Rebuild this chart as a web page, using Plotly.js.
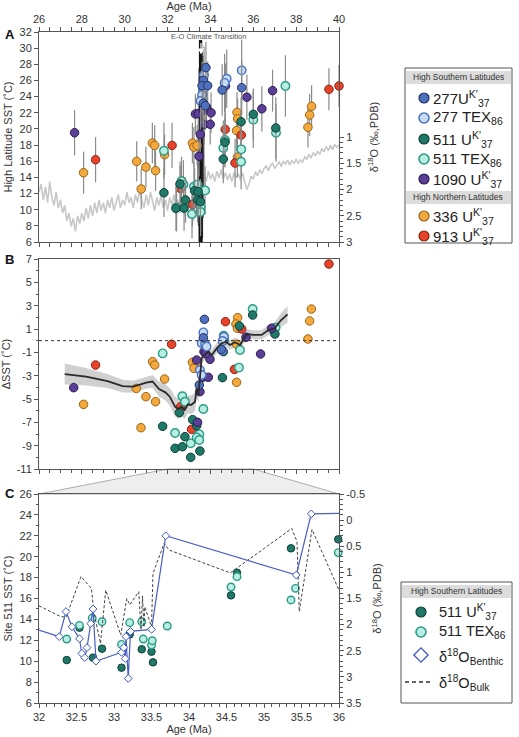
<!DOCTYPE html>
<html>
<head>
<meta charset="utf-8">
<script src="https://cdn.plot.ly/plotly-3.0.1.min.js"></script>
<style>
  html, body { margin: 0; padding: 0; background: #fff; }
  #chart { width: 519px; height: 737px; }
</style>
</head>
<body>
<div id="chart"></div>
<script>
// ---------------- Panel A: deep-sea benthic δ18O stack (0.1 Myr steps) ----------------
const d18oStartAge = 26.0;
const d18oStep = 0.1;
const d18oValues = [
  2.05,1.90,2.20,1.95,2.25,1.85,2.15,2.30,2.05,2.35,
  2.20,2.45,2.30,2.60,2.45,2.70,2.55,2.80,2.50,2.65,
  2.45,2.60,2.35,2.55,2.30,2.50,2.25,2.45,2.20,2.40,
  2.25,2.45,2.20,2.35,2.15,2.40,2.25,2.10,2.35,2.20,
  2.30,2.05,2.25,2.15,2.35,2.10,2.25,2.00,2.20,2.35,
  2.10,2.30,2.05,2.25,2.40,2.15,2.30,2.10,2.35,2.20,
  2.40,2.15,2.30,2.10,2.35,2.20,2.45,2.25,2.50,2.30,
  2.55,2.35,2.60,2.40,2.55,2.30,1.95,1.70,1.85,1.65,
  1.80,1.70,1.85,1.65,1.78,1.62,1.80,1.68,1.82,1.70,
  1.85,1.68,1.78,1.70,1.82,1.68,1.85,2.00,1.90,1.75,
  1.80,1.66,1.74,1.62,1.70,1.60,1.55,1.64,1.54,1.50,
  1.60,1.52,1.47,1.56,1.46,1.52,1.44,1.53,1.45,1.50,
  1.42,1.50,1.44,1.48,1.38,1.42,1.33,1.40,1.30,1.36,
  1.27,1.33,1.22,1.28,1.18,1.26,1.16,1.24,1.14,1.20,
  1.15
];

// high-resolution records across the Eocene-Oligocene transition (SST range per core)
const eoCoreAge = [33.50, 33.52, 33.54, 33.56, 33.58, 33.60];
const eoCoreLow = [6.0, 6.0, 6.0, 6.0, 6.0, 6.0];
const eoCoreHigh = [31.0, 30.5, 31.0, 30.0, 31.0, 29.5];
const eoHaloAge = [33.44, 33.47, 33.63, 33.66, 33.69];
const eoHaloLow = [8.0, 6.0, 6.5, 9.0, 13.0];
const eoHaloHigh = [22.0, 27.5, 29.0, 24.5, 20.0];

// High latitude SST (°C) with 1σ uncertainty
const a277ukAge = [33.79, 33.67, 33.61, 33.87, 33.67, 33.76, 34.55, 35.46];
const a277ukSst = [27.59, 26.02, 25.36, 25.36, 23.17, 22.88, 24.82, 25.10];
const a277ukErr = [3.2, 3.0, 3.0, 3.0, 3.0, 3.0, 3.2, 3.4];

const a277texAge = [33.70, 33.67, 33.61, 33.54, 34.76, 34.66, 35.46];
const a277texSst = [26.70, 24.82, 24.20, 23.46, 26.22, 25.70, 27.25];
const a277texErr = [3.5, 3.5, 3.5, 3.5, 3.6, 3.6, 3.8];

const a511ukAge = [31.83, 32.39, 32.58, 32.77, 32.84, 33.26, 33.40, 33.43, 33.53, 34.60, 34.68, 35.43, 36.00, 37.05];
const a511ukSst = [12.10, 10.16, 13.18, 10.20, 11.20, 12.35, 11.20, 12.23, 10.99, 16.27, 18.35, 20.89, 21.81, 20.12];
const a511ukErr = [3.0, 2.8, 2.8, 2.8, 2.8, 2.8, 2.8, 2.8, 2.8, 3.0, 3.0, 3.0, 3.2, 3.8];

const a511texAge = [31.83, 32.42, 32.65, 32.74, 33.14, 33.23, 33.40, 33.54, 33.54, 33.75, 34.60, 34.68, 35.43, 35.44, 36.00, 37.06, 37.50];
const a511texSst = [17.30, 10.29, 13.55, 13.13, 9.46, 12.85, 13.13, 10.29, 9.71, 12.39, 17.63, 18.62, 15.94, 17.47, 21.15, 19.53, 25.32];
const a511texErr = [3.5, 3.0, 3.0, 3.0, 3.0, 3.0, 3.0, 3.0, 3.0, 3.0, 3.4, 3.4, 3.4, 3.4, 3.5, 3.6, 3.8];

const a1090Age = [27.66, 33.30, 33.44, 33.47, 33.53, 33.67, 33.71, 33.82, 33.99, 34.03, 34.70, 35.70, 36.40, 36.90];
const a1090Sst = [19.53, 21.85, 21.89, 16.61, 19.33, 22.34, 20.57, 22.63, 20.57, 22.01, 25.31, 23.93, 22.49, 24.74];
const a1090Err = [2.8, 2.5, 2.5, 2.5, 2.5, 2.5, 2.5, 2.5, 2.5, 2.5, 2.8, 2.8, 2.8, 2.6];

const a336Age = [28.08, 30.56, 30.77, 30.99, 31.29, 31.40, 31.44, 31.86, 33.16, 33.23, 33.38, 35.24, 35.27, 35.22, 35.26, 38.55, 38.63, 38.72];
const a336Sst = [14.58, 15.98, 12.56, 15.28, 18.25, 17.95, 14.83, 16.80, 18.25, 17.75, 17.95, 22.05, 21.25, 19.80, 16.50, 20.20, 21.73, 22.80];
const a336Err = [2.6, 2.5, 2.5, 2.5, 2.5, 2.5, 2.5, 2.5, 2.5, 2.5, 2.5, 2.5, 2.5, 2.5, 2.5, 2.5, 2.6, 2.6];

const a913Age = [28.64, 32.21, 32.60, 33.16, 34.69, 35.15, 35.44, 39.53, 40.00];
const a913Sst = [16.19, 17.96, 12.64, 10.66, 19.94, 15.78, 19.24, 24.90, 25.32];
const a913Err = [2.8, 2.8, 2.8, 2.8, 3.0, 3.0, 3.0, 2.6, 2.6];

// ---------------- Panel B: ΔSST relative to model baseline ----------------
const b277ukAge = [33.72, 33.67, 33.48, 34.51];
const b277ukVal = [1.83, 0.25, -3.80, -0.75];

const b277texAge = [33.67, 33.59, 33.75, 33.82, 33.51, 33.59, 34.63, 34.57, 34.55];
const b277texVal = [0.71, -0.23, -0.31, -0.51, -2.51, -2.94, 0.34, -0.03, -0.85];

const b511ukAge = [31.77, 32.55, 32.35, 32.69, 32.81, 33.08, 33.17, 33.36, 33.51, 34.60, 34.56, 35.35, 35.97, 37.01];
const b511ukVal = [-7.34, -6.17, -9.23, -9.09, -8.23, -10.00, -6.77, -7.29, -9.46, -0.94, -3.17, 1.26, 2.20, 0.57];

const b511texAge = [31.77, 32.35, 32.69, 32.81, 33.08, 33.48, 33.36, 33.48, 33.67, 34.62, 34.65, 35.33, 35.38, 35.97, 37.04];
const b511texVal = [-1.09, -7.91, -4.77, -5.23, -8.80, -8.03, -8.29, -8.51, -5.86, 0.43, 0.11, -2.31, -0.80, 2.71, 1.11];

const b1090Age = [27.62, 33.70, 33.98, 33.36, 33.64, 33.90, 33.51, 33.40, 35.66, 36.34, 36.86, 33.78];
const b1090Val = [-4.03, -0.94, -1.60, -1.66, -3.14, -3.14, -4.37, -7.00, 0.29, -1.14, 1.06, -1.11];

const b336Age = [28.08, 30.54, 30.76, 30.99, 31.30, 31.40, 31.44, 31.86, 33.16, 33.36, 33.23, 35.27, 35.19, 35.26, 35.22, 35.22, 38.55, 38.63, 38.71];
const b336Val = [-5.46, -4.09, -7.46, -4.80, -1.80, -2.09, -5.23, -3.29, -1.86, -2.09, -2.37, 1.97, 1.43, 1.06, -0.31, -3.57, 0.14, 1.69, 2.71];

const b913Age = [28.64, 32.19, 32.61, 33.12, 34.70, 35.46, 35.12, 39.53];
const b913Val = [-2.09, -0.31, -5.66, -7.60, 1.63, 1.00, -2.46, 6.57];

// smoothed ΔSST trend and its confidence half-width
const bSmoothAge = [27.2,28.2,29.2,29.9,30.4,31.0,31.3,31.6,31.9,32.1,32.35,32.5,32.65,32.8,32.95,33.1,33.28,33.36,33.44,33.51,33.59,33.72,33.9,34.06,34.29,34.52,34.73,34.91,35.15,35.38,35.69,36.0,36.39,36.7,37.0,37.3,37.6];
const bSmoothVal = [-2.86,-3.09,-3.46,-3.89,-3.94,-3.60,-3.50,-4.14,-4.43,-4.80,-5.66,-5.86,-5.66,-5.94,-5.46,-5.51,-5.23,-4.09,-4.66,-2.94,-1.51,-1.23,-0.94,-1.23,-0.66,-0.23,-0.09,-0.37,-0.14,-0.37,0.57,0.49,0.49,0.91,1.06,1.77,2.26];
const bSmoothHalf = [0.9,0.75,0.6,0.55,0.5,0.5,0.55,0.65,0.7,0.75,0.85,0.85,0.8,0.8,0.75,0.8,0.8,0.8,0.7,0.6,0.5,0.45,0.45,0.45,0.45,0.4,0.4,0.4,0.4,0.4,0.4,0.4,0.4,0.45,0.5,0.6,0.7];

// ---------------- Panel C: Site 511 detail ----------------
const c511ukAge = [32.37, 32.54, 32.72, 32.84, 33.10, 33.21, 33.37, 33.50, 33.52, 34.56, 34.64, 35.36, 35.99];
const c511ukSst = [10.11, 13.21, 10.34, 11.20, 9.38, 12.57, 11.14, 10.91, 9.89, 16.30, 18.47, 20.80, 21.66];

const c511texAge = [32.37, 32.54, 32.71, 32.84, 33.10, 33.21, 33.37, 33.39, 33.50, 33.51, 33.71, 34.56, 34.64, 35.36, 35.42, 35.99];
const c511texSst = [12.12, 13.43, 14.13, 13.78, 11.61, 13.69, 13.78, 12.12, 11.55, 11.96, 13.37, 17.10, 18.09, 15.86, 16.97, 20.39];

const cBenthicAge = [31.95, 32.27, 32.36, 32.44, 32.54, 32.57, 32.61, 32.64, 32.69, 32.72, 32.76, 33.10, 33.13, 33.15, 33.16, 33.19, 33.22, 33.50, 33.69, 35.43, 35.63, 36.10];
const cBenthicD18o = [2.08, 2.23, 1.75, 2.04, 2.27, 2.55, 2.63, 2.44, 1.98, 1.70, 2.70, 2.53, 2.44, 2.65, 2.23, 3.03, 2.13, 2.09, 0.30, 1.05, -0.12, -0.13];

const cBulkAge = [32.00, 32.28, 32.36, 32.56, 32.70, 32.73, 32.82, 32.89, 33.09, 33.17, 33.21, 33.33, 33.36, 33.38, 33.40, 33.41, 33.50, 33.52, 33.67, 33.73, 34.55, 35.37, 35.44, 35.47, 35.64, 36.00];
const cBulkD18o = [1.64, 1.84, 1.86, 1.08, 1.31, 1.75, 2.36, 1.34, 2.20, 1.50, 1.62, 1.37, 2.10, 1.45, 2.05, 1.66, 2.04, 1.02, 0.44, 0.57, 1.01, 0.16, 0.41, 1.75, 0.18, 1.34];

// ---------------- styling ----------------
const FONT = 'Liberation Sans, Arial, Helvetica, sans-serif';
const W = 519, H = 737;
const PX = v => v / W;
const PY = v => 1 - v / H;
const X_DOM = [PX(39), PX(339)];
const A_DOM = [PY(242), PY(32)];
const B_DOM = [PY(469), PY(259)];
const C_DOM = [PY(703), PY(494)];

const STY = {
  u277:  { fill: '#4f70bd', edge: '#233260', w: 1 },
  t277:  { fill: '#c6dcf5', edge: '#4a73c4', w: 1.4 },
  u511:  { fill: '#1f7868', edge: '#0c4037', w: 1 },
  t511:  { fill: '#b9eee3', edge: '#2a9c86', w: 1.4 },
  u1090: { fill: '#5b3f96', edge: '#2b1c50', w: 1 },
  u336:  { fill: '#f4a93c', edge: '#9a6418', w: 1 },
  u913:  { fill: '#e8442b', edge: '#8a2212', w: 1 }
};

const d18oAges = d18oValues.map((_, i) => +(d18oStartAge + i * d18oStep).toFixed(2));

function segments(xs, lo, hi) {
  const x = [], y = [];
  xs.forEach((a, i) => { x.push(a, a, null); y.push(lo[i], hi[i], null); });
  return { x, y };
}

function dots(xs, ys, sty, xa, ya, size, errs) {
  const t = {
    type: 'scatter', mode: 'markers', x: xs, y: ys, xaxis: xa, yaxis: ya,
    cliponaxis: false, hoverinfo: 'skip',
    marker: { size: size, color: sty.fill, line: { color: sty.edge, width: sty.w } }
  };
  if (errs) {
    t.error_y = { type: 'data', array: errs, visible: true, color: '#8a8a8a', thickness: 1.2, width: 0 };
  }
  return t;
}

const traces = [];

// A — benthic δ18O curve on the right-hand axis
traces.push({ type: 'scatter', mode: 'lines', x: d18oAges, y: d18oValues, xaxis: 'x', yaxis: 'y',
  line: { color: '#c8c8c8', width: 1.6 }, hoverinfo: 'skip' });

// A — dense E-O transition records
const halo = segments(eoHaloAge, eoHaloLow, eoHaloHigh);
traces.push({ type: 'scatter', mode: 'lines', x: halo.x, y: halo.y, xaxis: 'x', yaxis: 'y2',
  line: { color: '#4a4a4a', width: 1.2 }, hoverinfo: 'skip' });
const core = segments(eoCoreAge, eoCoreLow, eoCoreHigh);
traces.push({ type: 'scatter', mode: 'lines', x: core.x, y: core.y, xaxis: 'x', yaxis: 'y2',
  line: { color: '#151515', width: 1.6 }, hoverinfo: 'skip' });

// A — SST points
const SZ_A = 8.5;
traces.push(dots(a336Age, a336Sst, STY.u336, 'x', 'y2', SZ_A, a336Err));
traces.push(dots(a913Age, a913Sst, STY.u913, 'x', 'y2', SZ_A, a913Err));
traces.push(dots(a511texAge, a511texSst, STY.t511, 'x', 'y2', SZ_A, a511texErr));
traces.push(dots(a511ukAge, a511ukSst, STY.u511, 'x', 'y2', SZ_A, a511ukErr));
traces.push(dots(a1090Age, a1090Sst, STY.u1090, 'x', 'y2', SZ_A, a1090Err));
traces.push(dots(a277texAge, a277texSst, STY.t277, 'x', 'y2', SZ_A, a277texErr));
traces.push(dots(a277ukAge, a277ukSst, STY.u277, 'x', 'y2', SZ_A, a277ukErr));

// B — confidence band
const bUpper = bSmoothVal.map((v, i) => v + bSmoothHalf[i]);
const bLower = bSmoothVal.map((v, i) => v - bSmoothHalf[i]);
traces.push({ type: 'scatter', mode: 'lines', xaxis: 'x2', yaxis: 'y3',
  x: bSmoothAge.concat(bSmoothAge.slice().reverse()),
  y: bUpper.concat(bLower.slice().reverse()),
  fill: 'toself', fillcolor: 'rgba(150,150,150,0.45)', line: { width: 0 }, hoverinfo: 'skip' });

// B — ΔSST points
traces.push(dots(b336Age, b336Val, STY.u336, 'x2', 'y3', SZ_A));
traces.push(dots(b913Age, b913Val, STY.u913, 'x2', 'y3', SZ_A));
traces.push(dots(b511texAge, b511texVal, STY.t511, 'x2', 'y3', SZ_A));
traces.push(dots(b511ukAge, b511ukVal, STY.u511, 'x2', 'y3', SZ_A));
traces.push(dots(b1090Age, b1090Val, STY.u1090, 'x2', 'y3', SZ_A));
traces.push(dots(b277texAge, b277texVal, STY.t277, 'x2', 'y3', SZ_A));
traces.push(dots(b277ukAge, b277ukVal, STY.u277, 'x2', 'y3', SZ_A));

// B — smoothed trend
traces.push({ type: 'scatter', mode: 'lines', x: bSmoothAge, y: bSmoothVal, xaxis: 'x2', yaxis: 'y3',
  line: { color: '#2a2a2a', width: 1.8 }, hoverinfo: 'skip' });

// C — Site 511 SST
const SZ_C = 7.5;
traces.push(dots(c511ukAge, c511ukSst, STY.u511, 'x3', 'y4', SZ_C));
traces.push(dots(c511texAge, c511texSst, STY.t511, 'x3', 'y4', SZ_C));

// C — δ18O records on the right-hand axis
traces.push({ type: 'scatter', mode: 'lines', x: cBulkAge, y: cBulkD18o, xaxis: 'x3', yaxis: 'y5',
  line: { color: '#444', width: 1, dash: '3px,2px' }, hoverinfo: 'skip' });
traces.push({ type: 'scatter', mode: 'lines+markers', x: cBenthicAge, y: cBenthicD18o, xaxis: 'x3', yaxis: 'y5',
  line: { color: '#4a5fc1', width: 1.2 },
  marker: { symbol: 'diamond', size: 6, color: '#ffffff', line: { color: '#3d55c0', width: 1 } },
  hoverinfo: 'skip' });

// ---------------- legends (pixel canvas axes) ----------------
const legendA = [
  { sty: STY.u277,  label: "277U<sup>K'</sup><sub>37</sub>", y: 98 },
  { sty: STY.t277,  label: "277 TEX<sub>86</sub>", y: 118 },
  { sty: STY.u511,  label: "511 U<sup>K'</sup><sub>37</sub>", y: 139 },
  { sty: STY.t511,  label: "511 TEX<sub>86</sub>", y: 159 },
  { sty: STY.u1090, label: "1090 U<sup>K'</sup><sub>37</sub>", y: 179 },
  { sty: STY.u336,  label: "336 U<sup>K'</sup><sub>37</sub>", y: 216 },
  { sty: STY.u913,  label: "913 U<sup>K'</sup><sub>37</sub>", y: 236 }
];
const legendC = [
  { sty: STY.u511, label: "511 U<sup>K'</sup><sub>37</sub>", y: 612 },
  { sty: STY.t511, label: "511 TEX<sub>86</sub>", y: 632 }
];
const legAll = legendA.map(r => ({ r, mx: 424, tx: 431, fs: 15 }))
  .concat(legendC.map(r => ({ r, mx: 421, tx: 437, fs: 14.5 })));

traces.push({ type: 'scatter', mode: 'markers', xaxis: 'x4', yaxis: 'y6', hoverinfo: 'skip', cliponaxis: false,
  x: legAll.map(o => o.mx), y: legAll.map(o => o.r.y),
  marker: { size: 10, color: legAll.map(o => o.r.sty.fill),
    line: { color: legAll.map(o => o.r.sty.edge), width: legAll.map(o => o.r.sty.w + 0.2) } } });
traces.push({ type: 'scatter', mode: 'markers', xaxis: 'x4', yaxis: 'y6', hoverinfo: 'skip', cliponaxis: false,
  x: [421], y: [655],
  marker: { symbol: 'diamond', size: 11, color: '#ffffff', line: { color: '#3d55c0', width: 1.3 } } });

const annotations = [];
const txt = (x, y, text, size, extra) => Object.assign({
  xref: 'paper', yref: 'paper', x: PX(x), y: PY(y), text: text, showarrow: false,
  xanchor: 'left', yanchor: 'middle', font: { family: FONT, size: size, color: '#222' }
}, extra || {});

legAll.forEach(o => annotations.push(txt(o.tx, o.r.y, o.r.label, o.fs)));
annotations.push(txt(437, 657, "δ<sup>18</sup>O<sub>Benthic</sub>", 14.5));
annotations.push(txt(437, 683, "δ<sup>18</sup>O<sub>Bulk</sub>", 14.5));

// legend headers
annotations.push(txt(458, 77, 'High Southern Latitudes', 8.5, { xanchor: 'center', font: { family: FONT, size: 8.5, color: '#333' } }));
annotations.push(txt(458, 197, 'High Northern Latitudes', 8.5, { xanchor: 'center', font: { family: FONT, size: 8.5, color: '#333' } }));
annotations.push(txt(456, 591, 'High Southern Latitudes', 8.5, { xanchor: 'center', font: { family: FONT, size: 8.5, color: '#333' } }));

// panel letters
annotations.push(txt(3, 34, '<b>A</b>', 13, { font: { family: FONT, size: 13, color: '#111' } }));
annotations.push(txt(3, 260, '<b>B</b>', 13, { font: { family: FONT, size: 13, color: '#111' } }));
annotations.push(txt(3, 494, '<b>C</b>', 13, { font: { family: FONT, size: 13, color: '#111' } }));

// E-O label and arrow
annotations.push({ xref: 'x', yref: 'y2', x: 33.89, y: 31.5, text: 'E-O Climate Transition', showarrow: false,
  xanchor: 'center', yanchor: 'middle', font: { family: FONT, size: 7.5, color: '#555' } });
annotations.push({ xref: 'x', yref: 'y2', x: 33.56, y: 29.2, text: '', showarrow: true,
  ax: 0, ay: -13, arrowcolor: '#ffffff', arrowwidth: 1.2, arrowhead: 2, arrowsize: 1 });

// ---------------- shapes ----------------
const zoomFrom = 32, zoomTo = 36, fullFrom = 26, fullTo = 40;
const bx = a => 39 + (a - fullFrom) / (fullTo - fullFrom) * 300;
const shapes = [
  // zoom connector between panels B and C
  { type: 'path', xref: 'paper', yref: 'paper', layer: 'below',
    path: `M ${PX(bx(zoomFrom))},${PY(469)} L ${PX(bx(zoomTo))},${PY(469)} L ${PX(339)},${PY(494)} L ${PX(39)},${PY(494)} Z`,
    fillcolor: '#eeeeee', line: { color: '#9a9a9a', width: 0.8 } },
  // zero line in B
  { type: 'line', xref: 'x2 domain', yref: 'y3', x0: 0, x1: 1, y0: 0, y1: 0,
    line: { color: '#333', width: 1, dash: 'dot' } },
  // legend frames
  { type: 'rect', xref: 'paper', yref: 'paper', x0: PX(405), x1: PX(512), y0: PY(243), y1: PY(68),
    line: { color: '#555', width: 1 }, fillcolor: 'rgba(0,0,0,0)' },
  { type: 'rect', xref: 'paper', yref: 'paper', layer: 'below', x0: PX(406), x1: PX(511), y0: PY(84), y1: PY(71),
    line: { width: 0 }, fillcolor: '#dcdcdc' },
  { type: 'rect', xref: 'paper', yref: 'paper', layer: 'below', x0: PX(406), x1: PX(511), y0: PY(204), y1: PY(191),
    line: { width: 0 }, fillcolor: '#dcdcdc' },
  { type: 'rect', xref: 'paper', yref: 'paper', x0: PX(401), x1: PX(512), y0: PY(703), y1: PY(582),
    line: { color: '#555', width: 1 }, fillcolor: 'rgba(0,0,0,0)' },
  { type: 'rect', xref: 'paper', yref: 'paper', layer: 'below', x0: PX(402), x1: PX(511), y0: PY(598), y1: PY(585),
    line: { width: 0 }, fillcolor: '#dcdcdc' },
  // bulk δ18O legend key
  { type: 'line', xref: 'paper', yref: 'paper', x0: PX(405), x1: PX(432), y0: PY(682), y1: PY(682),
    line: { color: '#333', width: 1.3, dash: '4px,3px' } }
];

// ---------------- axes ----------------
const AX = {
  showline: true, linecolor: '#555', linewidth: 1, ticks: 'outside', tickcolor: '#555',
  ticklen: 4, tickwidth: 1, showgrid: false, zeroline: false, automargin: false,
  tickfont: { family: FONT, size: 11, color: '#333' }
};
const TITLE_FONT = { family: FONT, size: 11, color: '#333' };
const seq = (a, b, s) => { const out = []; for (let v = a; v <= b + 1e-9; v += s) out.push(+v.toFixed(2)); return out; };
const lab = vals => vals.map(v => String(v));

const layout = {
  width: W, height: H, autosize: false,
  margin: { l: 0, r: 0, t: 0, b: 0, pad: 0 },
  paper_bgcolor: '#ffffff', plot_bgcolor: 'rgba(0,0,0,0)',
  showlegend: false, font: { family: FONT, color: '#333' },
  xaxis: Object.assign({}, AX, {
    domain: X_DOM, range: [26, 40], side: 'top', anchor: 'y', mirror: 'allticks',
    tickmode: 'array', tickvals: seq(26, 40, 2), ticktext: lab(seq(26, 40, 2)),
    minor: { tickmode: 'linear', tick0: 26, dtick: 0.5, ticklen: 2.5, tickcolor: '#555', ticks: 'outside' },
    title: { text: 'Age (Ma)', standoff: 4, font: TITLE_FONT }
  }),
  yaxis: Object.assign({}, AX, {
    domain: A_DOM, range: [3, -1], side: 'right', anchor: 'x',
    tickmode: 'array', tickvals: [1, 1.5, 2, 2.5, 3], ticktext: ['1', '1.5', '2', '2.5', '3'],
    minor: { tickmode: 'array', tickvals: seq(1, 3, 0.1), ticklen: 2.5, tickcolor: '#555', ticks: 'outside' },
    title: { text: 'δ<sup>18</sup>O (‰,PDB)', standoff: 9, font: TITLE_FONT }
  }),
  yaxis2: Object.assign({}, AX, {
    domain: A_DOM, range: [6, 32], side: 'left', anchor: 'x', overlaying: 'y',
    tickmode: 'array', tickvals: seq(6, 32, 2), ticktext: lab(seq(6, 32, 2)),
    title: { text: 'High Latitude SST (˚C)', standoff: 4, font: TITLE_FONT }
  }),
  xaxis2: Object.assign({}, AX, {
    domain: X_DOM, range: [26, 40], anchor: 'y3', mirror: true, showticklabels: false,
    tickmode: 'array', tickvals: seq(26, 40, 2),
    minor: { tickmode: 'linear', tick0: 26, dtick: 0.5, ticklen: 2.5, tickcolor: '#555', ticks: 'outside' }
  }),
  yaxis3: Object.assign({}, AX, {
    domain: B_DOM, range: [-11, 7], anchor: 'x2', mirror: true,
    tickmode: 'array', tickvals: seq(-11, 7, 2), ticktext: lab(seq(-11, 7, 2)),
    minor: { tickmode: 'linear', tick0: 0, dtick: 1, ticklen: 2.5, tickcolor: '#555', ticks: 'outside' },
    title: { text: 'ΔSST (˚C)', standoff: 6, font: TITLE_FONT }
  }),
  xaxis3: Object.assign({}, AX, {
    domain: X_DOM, range: [32, 36], anchor: 'y4', mirror: true,
    tickmode: 'array', tickvals: seq(32, 36, 0.5), ticktext: lab(seq(32, 36, 0.5)),
    minor: { tickmode: 'linear', tick0: 32, dtick: 0.1, ticklen: 2.5, tickcolor: '#555', ticks: 'outside' },
    title: { text: 'Age (Ma)', standoff: 3, font: TITLE_FONT }
  }),
  yaxis4: Object.assign({}, AX, {
    domain: C_DOM, range: [6, 26], anchor: 'x3',
    tickmode: 'array', tickvals: seq(6, 26, 2), ticktext: lab(seq(6, 26, 2)),
    minor: { tickmode: 'linear', tick0: 0, dtick: 1, ticklen: 2.5, tickcolor: '#555', ticks: 'outside' },
    title: { text: 'Site 511 SST (˚C)', standoff: 4, font: TITLE_FONT }
  }),
  yaxis5: Object.assign({}, AX, {
    domain: C_DOM, range: [3.5, -0.5], side: 'right', anchor: 'x3', overlaying: 'y4',
    tickmode: 'array', tickvals: seq(-0.5, 3.5, 0.5), ticktext: lab(seq(-0.5, 3.5, 0.5)),
    minor: { tickmode: 'linear', tick0: 0, dtick: 0.1, ticklen: 2.5, tickcolor: '#555', ticks: 'outside' },
    title: { text: 'δ<sup>18</sup>O (‰,PDB)', standoff: 9, font: TITLE_FONT }
  }),
  xaxis4: { domain: [0, 1], range: [0, W], anchor: 'y6', visible: false, fixedrange: true },
  yaxis6: { domain: [0, 1], range: [H, 0], anchor: 'x4', visible: false, fixedrange: true },
  shapes: shapes,
  annotations: annotations
};

Plotly.newPlot('chart', traces, layout, { displayModeBar: false, staticPlot: true });
</script>
</body>
</html>
